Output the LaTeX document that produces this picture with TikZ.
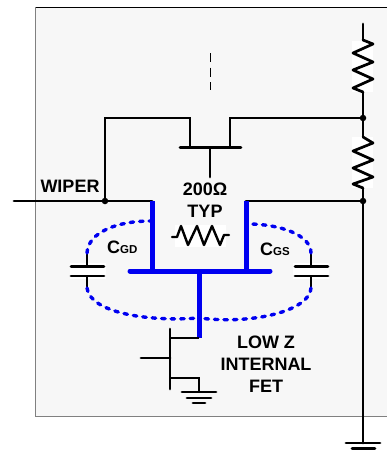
\documentclass[tikz,border=0pt]{standalone}
\usepackage{fontspec}
\setmainfont{Liberation Sans}
\definecolor{panelgray}{HTML}{F7F7F7}
\definecolor{fetblue}{HTML}{0000F0}
\tikzset{
  wire/.style={line width=2.7pt, line cap=round},
  fetwire/.style={line width=5pt, color=fetblue},
  parasitic/.style={line width=3.4pt, color=fetblue, dash pattern=on 3.5pt off 6pt, line cap=round},
  dot/.style={circle, fill=black, inner sep=0pt, minimum size=6.5pt},
  lbl/.style={font=\fontsize{18}{22}\selectfont\bfseries, align=center, inner sep=0pt},
  clearing/.style={fill=white, draw=none}
}
\begin{document}
\begin{tikzpicture}[x=1pt, y=-1pt]
  \useasboundingbox (0,0) rectangle (387,453);
  % panel
  \fill[panelgray] (35,7) rectangle (387,416);
  \draw[line width=0.9pt, color=black] (35,7) -- (387,7);
  \draw[line width=0.9pt, color=gray] (35,7) -- (35,416) -- (387,416);
  % rail and its end points
  \coordinate (railtop) at (363,24);
  \coordinate (railbot) at (363,443);
  \coordinate (wirein) at (14,201);
  \coordinate (passgate) at (210,177);
  \draw[wire] (railtop) -- (railbot);
  \draw[clearing] (352,41) rectangle (373,92);
  \draw[clearing] (352,137) rectangle (373,188);
  \draw[wire, line join=round] (363,40) -- (373,44) -- (353,53) -- (373,62) -- (353,70) -- (373,79) -- (353,88) -- (363,92);
  \draw[wire, line join=round] (363,137) -- (373,143) -- (353,151) -- (373,160) -- (353,168) -- (373,177) -- (353,184) -- (363,188);
  \node[dot] (tapup) at (363,118) {};
  \node[dot] (taplow) at (363,201) {};
  \node[dot] (wiperdot) at (105,201) {};
  % dashed continuation
  \draw[line width=1.5pt, dash pattern=on 9pt off 5.5pt] (210.6,53) -- (210.6,90);
  % pass fet
  \coordinate (passl) at (190,147);
  \coordinate (passr) at (230,147);
  \coordinate (fetl) at (152,201);
  \coordinate (fetr) at (246,201);
  \draw[wire] (wirein) -- (fetl);
  \draw[wire] (wiperdot) |- (passl |- 0,118) -- (passl);
  \draw[wire] (tapup) -| (passr);
  \draw[wire] (180,147.5) -- (241,147.5);
  \draw[wire] (210,147.5) -- (passgate);
  \draw[wire] (fetr) -- (taplow);
  % blue part
  \coordinate (junction) at (199,271);
  \coordinate (lowdrain) at (199,338);
  \draw[fetwire] (fetl) -- (152,271);
  \draw[fetwire] (fetr) -- (246,271);
  \draw[fetwire, line cap=round] (130,271) -- (270,271);
  \draw[fetwire] (junction) -- (lowdrain);
  % parasitic caps
  \coordinate (capgdtop) at (87,253);
  \coordinate (capgdbot) at (87,288);
  \coordinate (capgstop) at (311,253);
  \coordinate (capgsbot) at (311,288);
  \draw[clearing] (70,263) rectangle (106,279);
  \draw[clearing] (293,263) rectangle (329,279);
  \draw[wire, line cap=butt] (capgdtop) -- (87,266.5);
  \draw[wire, line cap=butt] (87,276) -- (capgdbot);
  \draw[wire] (71,266.5) -- (104,266.5);
  \draw[wire] (71,276) -- (104,276);
  \draw[wire, line cap=butt] (capgstop) -- (311,266.5);
  \draw[wire, line cap=butt] (311,276) -- (capgsbot);
  \draw[wire] (295,266.5) -- (328,266.5);
  \draw[wire] (295,276) -- (328,276);
  \draw[parasitic] (capgdtop) .. controls (88,232) and (118,221) .. (150,221);
  \draw[parasitic] (capgstop) .. controls (311,235) and (280,224) .. (248,224);
  \draw[parasitic] (capgdbot) .. controls (90,312) and (145,322) .. (199,318);
  \draw[parasitic] (capgsbot) .. controls (310,310) and (255,325) .. (199,318);
  % small resistor
  \draw[clearing] (175,225) rectangle (226,247);
  \draw[wire, line width=2.4pt, line join=round] (172,237) -- (177,237) -- (181,226) -- (188,245) -- (197,226) -- (204,245) -- (212,226) -- (220,245) -- (224,235) -- (229,235);
  % low z fet
  \coordinate (lowgate) at (141,358);
  \draw[wire] (lowgate) -- (170,358);
  \draw[wire] (170,329) -- (170,389);
  \draw[wire, line cap=butt] (170,338) -- (lowdrain);
  \draw[wire, line cap=butt] (170,378) -- (199,378) -- (199,392);
  \draw[wire] (182,392) -- (216,392);
  \draw[wire] (187,398) -- (211,398);
  \draw[wire] (193,403) -- (205,403);
  % ground of the rail
  \draw[wire] (346,443) -- (380,443);
  \draw[wire] (352,448.5) -- (375,448.5);
  % labels
  \node[lbl] (wiperlbl) at (70,186) {WIPER};
  \node[lbl] (typlbl) at (205,200) {200Ω\\TYP};
  \node[lbl] (lowzlbl) at (266,364) {LOW Z\\INTERNAL\\FET};
  \node[lbl, anchor=base west] (cgdlbl) at (107,253) {C\fontsize{11.5}{11}\selectfont GD};
  \node[lbl, anchor=base west] (cgslbl) at (260,255) {C\fontsize{11.5}{11}\selectfont GS};
\end{tikzpicture}
\end{document}
